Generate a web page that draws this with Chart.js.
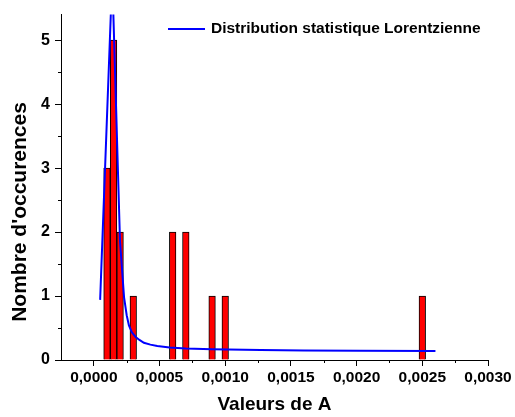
<!DOCTYPE html>
<html>
<head>
<meta charset="utf-8">
<script src="https://cdn.jsdelivr.net/npm/chart.js@4.4.1/dist/chart.umd.min.js"></script>
<style>
  html, body { margin: 0; padding: 0; background: #fff; }
  #wrap { width: 515px; height: 417px; }
</style>
</head>
<body>
<div id="wrap"><canvas id="histChart" width="515" height="417"></canvas></div>
<script>
// histogram bins (centre of each bin) and counts
const binCenters = [0.00010, 0.00015, 0.00020, 0.00030, 0.00060, 0.00070, 0.00090, 0.00100, 0.00250];
const binCounts = [3, 5, 2, 1, 2, 2, 1, 1, 1];

// Lorentzian fit, points
const fitX = [0.000048, 0.000140, 0.000199, 0.000230, 0.000250, 0.000267, 0.000290, 0.000318, 0.000350, 0.000381, 0.000430, 0.000483, 0.000576, 0.00070, 0.00090, 0.00127, 0.00160, 0.00202, 0.00260];
const fitY = [0.94, 6.0, 1.86, 0.98, 0.70, 0.54, 0.43, 0.36, 0.31, 0.27, 0.24, 0.22, 0.195, 0.18, 0.17, 0.155, 0.15, 0.145, 0.14];

const xTicks = [0, 0.0005, 0.001, 0.0015, 0.002, 0.0025, 0.003];
const xTickLabels = ['0,0000', '0,0005', '0,0010', '0,0015', '0,0020', '0,0025', '0,0030'];
const xMinor = [0.00025, 0.00075, 0.00125, 0.00175, 0.00225, 0.00275];
const yTicks = [0, 1, 2, 3, 4, 5];
const yTickLabels = ['0', '1', '2', '3', '4', '5'];
const yMinor = [0.5, 1.5, 2.5, 3.5, 4.5];

const FONT = "'Liberation Sans', Arial, sans-serif";

// short ticks between the labelled ones
const minorTicks = {
  id: 'minorTicks',
  afterDraw(chart) {
    const { ctx, scales: { x, y } } = chart;
    ctx.save();
    ctx.strokeStyle = '#000';
    ctx.lineWidth = 1;
    ctx.beginPath();
    xMinor.forEach(v => {
      const px = Math.round(x.getPixelForValue(v)) + 0.5;
      ctx.moveTo(px, y.bottom);
      ctx.lineTo(px, y.bottom + 3);
    });
    yMinor.forEach(v => {
      const py = Math.round(y.getPixelForValue(v)) + 0.5;
      ctx.moveTo(x.left, py);
      ctx.lineTo(x.left - 3, py);
    });
    ctx.stroke();
    ctx.restore();
  }
};

// y title sits a bit below the middle of the axis, legend inside the plot
const extras = {
  id: 'extras',
  afterDraw(chart) {
    const ctx = chart.ctx;
    ctx.save();
    ctx.fillStyle = '#000';
    ctx.font = 'bold 21px ' + FONT;
    ctx.textAlign = 'center';
    ctx.textBaseline = 'middle';
    ctx.translate(20, 212);
    ctx.rotate(-Math.PI / 2);
    ctx.fillText("Nombre d'occurences", 0, 0);
    ctx.restore();

    ctx.save();
    ctx.strokeStyle = '#0000ff';
    ctx.lineWidth = 2;
    ctx.beginPath();
    ctx.moveTo(168, 29);
    ctx.lineTo(205, 29);
    ctx.stroke();
    ctx.fillStyle = '#000';
    ctx.font = 'bold 15.5px ' + FONT;
    ctx.textAlign = 'left';
    ctx.textBaseline = 'middle';
    ctx.fillText('Distribution statistique Lorentzienne', 211, 29);
    ctx.restore();
  }
};

new Chart(document.getElementById('histChart'), {
  data: {
    datasets: [
      {
        type: 'line',
        label: 'Distribution statistique Lorentzienne',
        data: fitX.map((x, i) => ({ x: x, y: fitY[i] })),
        borderColor: '#0000ff',
        borderWidth: 2,
        pointRadius: 0,
        fill: false,
        tension: 0,
        order: 0
      },
      {
        type: 'bar',
        label: 'Occurences',
        data: binCenters.map((x, i) => ({ x: x, y: binCounts[i] })),
        backgroundColor: '#ff0000',
        borderColor: '#000000',
        borderWidth: 1,
        barPercentage: 1,
        categoryPercentage: 1,
        order: 1
      }
    ]
  },
  options: {
    responsive: false,
    animation: false,
    devicePixelRatio: 1,
    layout: { padding: { top: 12, right: 27, left: 0, bottom: 0 } },
    plugins: {
      legend: { display: false },
      tooltip: { enabled: false }
    },
    scales: {
      x: {
        type: 'linear',
        offset: false,
        min: -0.00025,
        max: 0.003,
        afterBuildTicks: s => { s.ticks = xTicks.map(v => ({ value: v })); },
        afterFit: s => { s.height = 57; },
        ticks: {
          callback: (v, i) => xTickLabels[i],
          font: { family: FONT, size: 15.5, weight: 'bold' },
          color: '#000',
          padding: 2,
          maxRotation: 0,
          autoSkip: false
        },
        grid: { offset: false, drawOnChartArea: false, tickLength: 6, color: '#000' },
        border: { color: '#000', width: 1 },
        title: {
          display: true,
          text: 'Valeurs de A',
          font: { family: FONT, size: 19, weight: 'bold' },
          color: '#000',
          padding: { top: 0, bottom: 1 }
        }
      },
      y: {
        type: 'linear',
        min: 0,
        max: 5.4,
        afterBuildTicks: s => { s.ticks = yTicks.map(v => ({ value: v })); },
        afterFit: s => { s.width = 61; },
        ticks: {
          callback: (v, i) => yTickLabels[i],
          font: { family: FONT, size: 16, weight: 'bold' },
          color: '#000',
          padding: 5
        },
        grid: { drawOnChartArea: false, tickLength: 6, color: '#000' },
        border: { color: '#000', width: 1 }
      }
    }
  },
  plugins: [minorTicks, extras]
});
</script>
</body>
</html>
